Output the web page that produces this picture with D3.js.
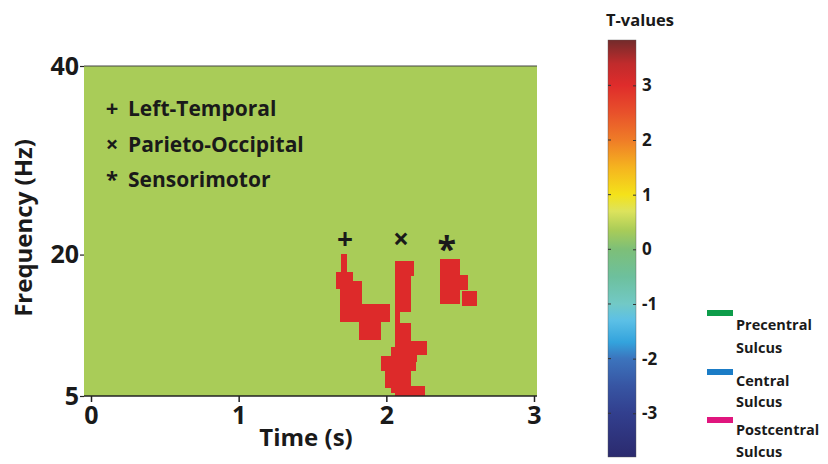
<!DOCTYPE html>
<html lang="en">
<head>
<meta charset="utf-8">
<title>Time-frequency T-values</title>
<script src="https://d3js.org/d3.v7.js"></script>
<style>
  body { margin: 0; background: #fff; }
  text { font-family: "Open Sans", sans-serif; font-weight: 700; fill: #1a1a1a; }
</style>
</head>
<body>
<div id="my_dataviz"></div>
<script>

// ---- data ----
const xTicks = [0, 1, 2, 3];
const yTicks = [5, 20, 40];
const cbTicks = [-3, -2, -1, 0, 1, 2, 3];

const clusterNames = ["Left-Temporal", "Parieto-Occipital", "Sensorimotor"];
const clusterSymbols = ["+", "\u00d7", "*"];
const clusterTimes = [1.72, 2.10, 2.41];   // s, where the symbol sits above the blob
const symbolFreq = 21.8;                   // Hz

// significant time-frequency cells: [t start, t end, f low, f high]
const leftTemporalCells = [
  [1.695, 1.732, 18.18, 20.06],
  [1.657, 1.776, 16.35, 18.18],
  [1.686, 1.835, 12.88, 17.20],
  [1.835, 2.027, 12.88, 14.73],
  [1.815, 1.962, 10.97, 12.88]
];
const parietoOccipitalCells = [
  [2.057, 2.187, 17.76, 19.32],
  [2.057, 2.169, 13.94, 17.76],
  [2.057, 2.093, 12.35, 13.94],
  [2.057, 2.169, 10.83, 12.71],
  [2.057, 2.277, 9.35, 10.83],
  [2.030, 2.210, 8.64, 10.23],
  [1.966, 2.169, 7.65, 9.24],
  [2.169, 2.199, 7.65, 8.64],
  [1.993, 2.169, 5.82, 7.65],
  [2.030, 2.061, 5.29, 5.82],
  [2.057, 2.260, 5.00, 6.06]
];
const sensorimotorCells = [
  [2.363, 2.498, 14.76, 19.50],
  [2.498, 2.552, 16.24, 17.83],
  [2.512, 2.612, 14.51, 16.17]
];
const backgroundTValue = 0.35;

// colour map of the T-value bar
const cmapValues = [-3.8, -3.0, -2.5, -2.0, -1.7, -1.3, -1.0, -0.5, 0.0, 0.35, 0.7, 1.0, 1.5, 2.0, 2.5, 3.0, 3.4, 3.8];
const cmapColors = ["#2b2a6e", "#323f8e", "#3755a3", "#3c74bd", "#33a3dd", "#5cc0e6", "#72c9c6", "#6dc09d", "#7dbf78",
                    "#a9cc58", "#dde35c", "#f4e21a", "#f5b41f", "#ef7c27", "#e8512b", "#df2c2b", "#c02b2c", "#782b2b"];
const cbDomain = [-3.8, 3.83];

const sulcusNames = [["Precentral", "Sulcus"], ["Central", "Sulcus"], ["Postcentral", "Sulcus"]];
const sulcusColors = ["#0d9c4a", "#1b7cc6", "#e0167e"];

// ---- layout ----
const W = 828, H = 464;
const plot = {left: 84, right: 537, top: 66, bottom: 396};

const svg = d3.select("#my_dataviz")
  .append("svg")
    .attr("width", W)
    .attr("height", H);

const x = d3.scaleLinear().domain([0, 3]).range([91, 534]);
const y = d3.scaleLinear().domain([5, 40]).range([plot.bottom, plot.top]);
const tColor = d3.scaleLinear().domain(cmapValues).range(cmapColors);

// background of the map
svg.append("rect")
  .attr("x", plot.left).attr("y", plot.top)
  .attr("width", plot.right - plot.left).attr("height", plot.bottom - plot.top)
  .attr("fill", tColor(backgroundTValue));

// cells
const allCells = [].concat(leftTemporalCells, parietoOccipitalCells, sensorimotorCells);
svg.append("g")
  .selectAll("rect")
  .data(allCells)
  .join("rect")
    .attr("x", d => x(d[0]))
    .attr("y", d => y(d[3]))
    .attr("width", d => x(d[1]) - x(d[0]))
    .attr("height", d => y(d[2]) - y(d[3]))
    .attr("fill", "#dd2a2a")
    .attr("shape-rendering", "crispEdges");

// frame lines
svg.append("line")
  .attr("x1", plot.left).attr("x2", plot.right)
  .attr("y1", plot.top).attr("y2", plot.top)
  .attr("stroke", "#444").attr("stroke-width", 1);
svg.append("line")
  .attr("x1", plot.left).attr("x2", plot.right)
  .attr("y1", plot.bottom).attr("y2", plot.bottom)
  .attr("stroke", "#222").attr("stroke-width", 1.5);

// x axis
const xAxis = svg.append("g").attr("transform", `translate(0, ${plot.bottom})`)
  .call(d3.axisBottom(x).tickValues(xTicks).tickSize(6).tickPadding(4).tickFormat(d3.format("d")));
xAxis.select(".domain").remove();
xAxis.selectAll("line").attr("stroke", "#222").attr("stroke-width", 1.5);
xAxis.selectAll("text")
  .attr("font-size", 25).attr("font-family", "Open Sans").attr("font-weight", 700).attr("fill", "#1a1a1a")
  .attr("dy", "0.72em");

// y axis
const yAxis = svg.append("g").attr("transform", `translate(${plot.left}, 0)`)
  .call(d3.axisLeft(y).tickValues(yTicks).tickSize(4).tickPadding(1).tickFormat(d3.format("d")));
yAxis.select(".domain").remove();
yAxis.selectAll("line").attr("stroke", "#222").attr("stroke-width", 1.2);
yAxis.selectAll("text")
  .attr("font-size", 25).attr("font-family", "Open Sans").attr("font-weight", 700).attr("fill", "#1a1a1a");

// axis titles
svg.append("text")
  .attr("x", 306).attr("y", 446)
  .attr("text-anchor", "middle").attr("font-size", 24)
  .text("Time (s)");
svg.append("text")
  .attr("transform", "translate(32, 228) rotate(-90)")
  .attr("text-anchor", "middle").attr("font-size", 24)
  .text("Frequency (Hz)");

// in-plot legend of clusters
const legendRows = svg.append("g")
  .selectAll("g")
  .data(clusterNames)
  .join("g")
    .attr("transform", (d, i) => `translate(0, ${116 + i * 35.5})`);
legendRows.append("text")
  .attr("x", 112).attr("text-anchor", "middle")
  .attr("font-size", 22).attr("font-weight", 400)
  .text((d, i) => clusterSymbols[i]);
legendRows.append("text")
  .attr("x", 128).attr("font-size", 21)
  .text(d => d);

// symbols above each blob
svg.append("g")
  .selectAll("text")
  .data(clusterTimes)
  .join("text")
    .attr("x", d => x(d))
    .attr("y", y(symbolFreq))
    .attr("text-anchor", "middle")
    .attr("dominant-baseline", "central")
    .attr("font-size", (d, i) => i === 2 ? 34 : 28)
    .attr("font-weight", 400)
    .attr("dy", (d, i) => i === 2 ? "0.3em" : "0")
    .text((d, i) => clusterSymbols[i]);

// colour bar
const cb = {left: 608, right: 636, top: 40, bottom: 457};
const cbScale = d3.scaleLinear().domain(cbDomain).range([cb.bottom, cb.top]);

const grad = svg.append("defs").append("linearGradient")
  .attr("id", "tgrad")
  .attr("x1", 0).attr("y1", 1).attr("x2", 0).attr("y2", 0);
grad.selectAll("stop")
  .data(cmapValues)
  .join("stop")
    .attr("offset", d => (d - cbDomain[0]) / (cbDomain[1] - cbDomain[0]))
    .attr("stop-color", (d, i) => cmapColors[i]);

svg.append("rect")
  .attr("x", cb.left).attr("y", cb.top)
  .attr("width", cb.right - cb.left).attr("height", cb.bottom - cb.top)
  .attr("fill", "url(#tgrad)")
  .attr("stroke", "#555").attr("stroke-width", 0.4);

const cbAxis = svg.append("g").attr("transform", `translate(${cb.right}, 0)`)
  .call(d3.axisRight(cbScale).tickValues(cbTicks).tickSize(-3).tickPadding(6).tickFormat(d3.format("d")));
cbAxis.select(".domain").remove();
cbAxis.selectAll("line").attr("stroke", "#333");
cbAxis.selectAll("text")
  .attr("font-size", 17).attr("font-family", "Open Sans").attr("font-weight", 700).attr("fill", "#1a1a1a")
  .text(d => d < 0 ? "-" + Math.abs(d) : d);
svg.append("g")
  .selectAll("line")
  .data(cbTicks)
  .join("line")
    .attr("x1", cb.left).attr("x2", cb.left + 3)
    .attr("y1", d => cbScale(d)).attr("y2", d => cbScale(d))
    .attr("stroke", "#333");

svg.append("text")
  .attr("x", 640).attr("y", 26)
  .attr("text-anchor", "middle").attr("font-size", 16.5)
  .text("T-values");

// sulcus legend
const sulcusTop = [310, 369, 417];
const sulcus = svg.append("g")
  .selectAll("g")
  .data(sulcusNames)
  .join("g")
    .attr("transform", (d, i) => `translate(0, ${sulcusTop[i]})`);
sulcus.append("rect")
  .attr("x", 707).attr("y", 0)
  .attr("width", 26).attr("height", 6)
  .attr("fill", (d, i) => sulcusColors[i]);
sulcus.append("text")
  .attr("x", 736).attr("y", (d, i) => [20, 17, 18][i])
  .attr("font-size", 14.5)
  .text(d => d[0]);
sulcus.append("text")
  .attr("x", 736).attr("y", (d, i) => [43, 38, 40][i])
  .attr("font-size", 14.5)
  .attr("font-weight", (d, i) => i === 2 ? 400 : 700)
  .text(d => d[1]);

</script>
</body>
</html>
